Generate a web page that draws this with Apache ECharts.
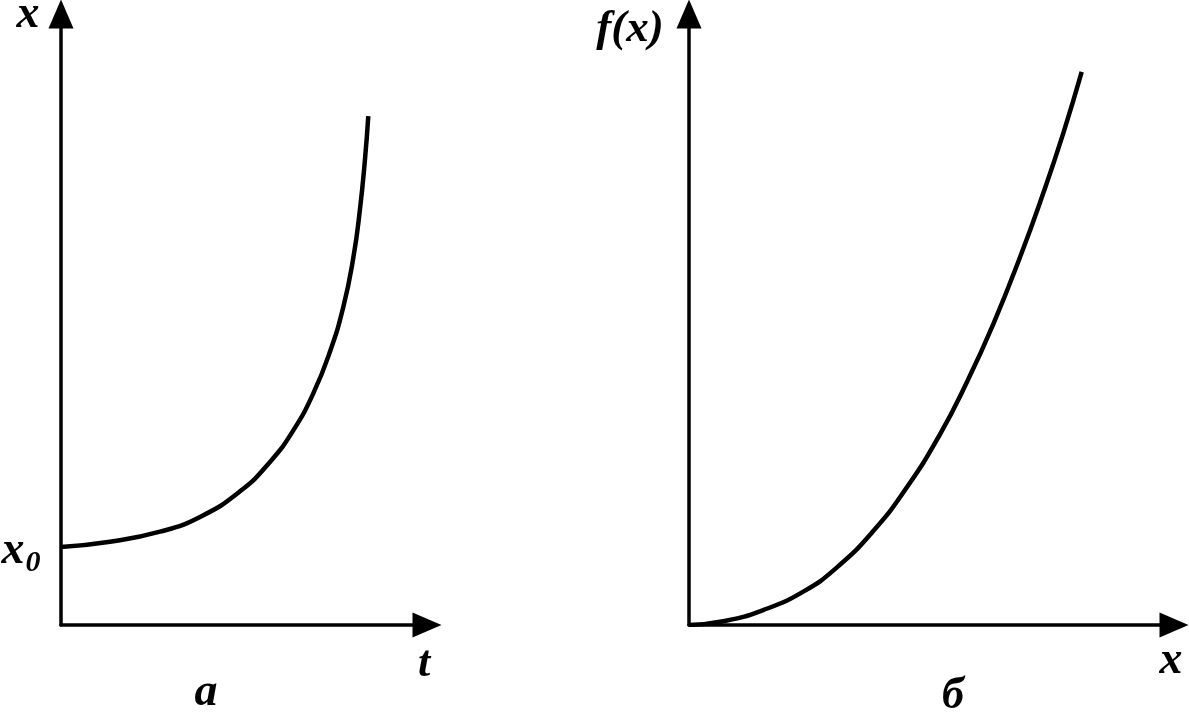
<!DOCTYPE html>
<html>
<head>
<meta charset="utf-8">
<script src="https://cdn.jsdelivr.net/npm/echarts@6/dist/echarts.min.js"></script>
<style>
html,body{margin:0;padding:0;background:#fff;}
#chart{width:1189px;height:719px;}
</style>
</head>
<body>
<div id="chart"></div>
<script>
// Panel a: x(t)
const tValuesA = [0, 13.39, 27.05, 37.98, 48.91, 57.10, 63.47, 68.93, 73.50, 77.13, 79.86, 81.69, 83.06, 83.96];
const xValuesA = [12.77, 13.63, 15.27, 17.69, 21.88, 26.69, 31.85, 37.91, 44.75, 52.05, 60.07, 68.07, 76.25, 83.27];
// Panel б: f(x)
const xValuesB = [0, 7.07, 15.32, 23.57, 30.45, 38.0, 44.89, 51.75, 57.26, 62.74, 68.25, 73.05, 77.18, 80.97];
const fValuesB = [0, 0.62, 2.45, 5.47, 9.39, 15.38, 22.49, 31.21, 39.69, 49.26, 60.20, 70.69, 80.51, 90.51];
const x0Value = xValuesA[0];

const FONT = '"Liberation Serif", "DejaVu Serif", serif';

function axis(extra) {
  return Object.assign({
    type: 'value', min: 0, max: 100,
    axisLine: { show: true, symbol: ['none', 'triangle'], symbolSize: [25, 29], lineStyle: { color: '#000', width: 3.5 } },
    axisTick: { show: false }, axisLabel: { show: false }, splitLine: { show: false }
  }, extra);
}

const chart = echarts.init(document.getElementById('chart'), null, { renderer: 'canvas' });
chart.setOption({
  backgroundColor: '#fff',
  animation: false,
  grid: [
    { left: 61, top: 14, width: 366, height: 611 },
    { left: 689, top: 14, width: 485, height: 611 }
  ],
  xAxis: [axis({ gridIndex: 0 }), axis({ gridIndex: 1 })],
  yAxis: [axis({ gridIndex: 0 }), axis({ gridIndex: 1 })],
  series: [
    {
      type: 'line', xAxisIndex: 0, yAxisIndex: 0, smooth: true, showSymbol: false,
      lineStyle: { color: '#000', width: 4.5 },
      data: tValuesA.map((t, i) => [t, xValuesA[i]])
    },
    {
      type: 'line', xAxisIndex: 1, yAxisIndex: 1, smooth: true, showSymbol: false,
      lineStyle: { color: '#000', width: 4.5 },
      data: xValuesB.map((x, i) => [x, fValuesB[i]])
    }
  ]
});

function txt(text, x, y, size, rich) {
  return {
    type: 'text', x: x, y: y, silent: true,
    style: {
      text: text, fill: '#000', font: 'italic bold ' + size + 'px ' + FONT,
      align: 'center', verticalAlign: 'middle', rich: rich
    }
  };
}

const y0px = chart.convertToPixel({ gridIndex: 0 }, [0, x0Value])[1];

chart.setOption({
  graphic: [
    txt('x', 28, 15, 46),
    txt('{m|x}{s|0}', 21, y0px + 4, 46, {
      m: { font: 'italic bold 46px ' + FONT, fill: '#000' },
      s: { font: 'italic bold 30px ' + FONT, fill: '#000', padding: [24, 0, 0, 1] }
    }),
    txt('t', 424, 665, 44),
    txt('a', 206, 693, 46),
    txt('f(x)', 630, 29, 45),
    txt('x', 1171, 661, 46),
    txt('б', 953, 697, 44)
  ]
});
</script>
</body>
</html>
